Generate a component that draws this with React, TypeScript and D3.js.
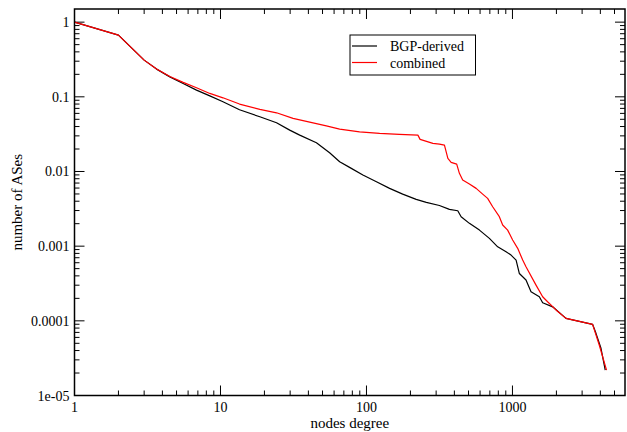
import React from "react";
import * as d3 from "d3";

const W = 627;
const H = 432;

const xMajorTicks = [1, 10, 100, 1000];
const xTickLabels = ["1", "10", "100", "1000"];
const yMajorTicks = [1, 0.1, 0.01, 0.001, 0.0001, 0.00001];
const yTickLabels = ["1", "0.1", "0.01", "0.001", "0.0001", "1e-05"];

const bgpDegree = [1, 2, 3, 3.65, 4.5, 5.55, 6.85, 8.45, 10.4, 13.5, 18.6, 24.2, 29.8, 34.9, 45.4, 55.9, 65.5, 76.6, 94.5, 117, 144, 177, 219, 257, 316, 370, 422, 445, 507, 594, 695, 792, 904, 978, 1059, 1115, 1238, 1340, 1528, 1610, 1885, 2326, 3538, 3733, 4040, 4320];
const bgpValue = [1, 0.67, 0.31, 0.235, 0.185, 0.151, 0.123, 0.103, 0.0857, 0.0672, 0.054, 0.0449, 0.0358, 0.0307, 0.0242, 0.0178, 0.0135, 0.01135, 0.00895, 0.00728, 0.00594, 0.00498, 0.00423, 0.00386, 0.0035, 0.00311, 0.00298, 0.00248, 0.00202, 0.00164, 0.00127, 0.00098, 0.00084, 0.00076, 0.00065, 0.00043, 0.000352, 0.000245, 0.00021, 0.000175, 0.000154, 0.000108, 0.0000898, 0.000068, 0.0000429, 0.0000219];

const combDegree = [1, 2, 3, 3.65, 4.5, 5.55, 6.85, 8.45, 10.4, 13.5, 18.6, 24.2, 31.4, 53.1, 65.5, 89.7, 123, 168, 225, 233, 285, 316, 342, 361, 380, 415, 433, 456, 507, 564, 625, 676, 732, 813, 857, 927, 1003, 1086, 1175, 1238, 1450, 1610, 1740, 1987, 2326, 3538, 3930, 4410];
const combValue = [1, 0.67, 0.31, 0.236, 0.187, 0.156, 0.132, 0.111, 0.097, 0.08, 0.0678, 0.0611, 0.0514, 0.0409, 0.037, 0.034, 0.0324, 0.0314, 0.0307, 0.0269, 0.0238, 0.0233, 0.0226, 0.015, 0.01324, 0.01256, 0.00944, 0.00767, 0.00678, 0.00594, 0.00498, 0.00436, 0.00337, 0.00248, 0.00192, 0.00164, 0.00121, 0.000935, 0.000652, 0.00053, 0.000301, 0.00021, 0.00018, 0.00014, 0.000108, 0.0000898, 0.0000474, 0.0000219];

const seriesNames = ["BGP-derived", "combined"];
const seriesColors = ["#000000", "#ff0000"];

const FONT = "'Liberation Serif', 'Times New Roman', serif";

export default function App() {
  const left = 74.5, right = 625, top = 9, bottom = 395.5;
  const x = d3.scaleLog().domain([1, 5900]).range([left, right]);
  const y = d3.scaleLog().domain([1e-5, 1.5]).range([bottom, top]);

  const line = d3
    .line<[number, number]>()
    .x((d) => x(d[0]))
    .y((d) => y(d[1]));

  const bgp: [number, number][] = bgpDegree.map((d, i) => [d, bgpValue[i]]);
  const comb: [number, number][] = combDegree.map((d, i) => [d, combValue[i]]);

  const xMinor: number[] = [];
  for (let p = 0; p < 4; p++) {
    for (let k = 2; k <= 9; k++) {
      const v = k * Math.pow(10, p);
      if (v <= 5900) xMinor.push(v);
    }
  }
  const yMinor: number[] = [];
  for (let p = -5; p < 0; p++) {
    for (let k = 2; k <= 9; k++) yMinor.push(k * Math.pow(10, p));
  }

  const maj = 10, min = 5;

  return (
    <svg width={W} height={H} style={{ position: "absolute", left: 0, top: 0, background: "#fff" }}>
      <rect x={0} y={0} width={W} height={H} fill="#fff" />
      <g stroke="#000" strokeWidth={1}>
        {xMajorTicks.map((t) => (
          <g key={"xm" + t}>
            <line x1={x(t)} x2={x(t)} y1={bottom} y2={bottom - maj} />
            <line x1={x(t)} x2={x(t)} y1={top} y2={top + maj} />
          </g>
        ))}
        {xMinor.map((t) => (
          <g key={"xn" + t}>
            <line x1={x(t)} x2={x(t)} y1={bottom} y2={bottom - min} />
            <line x1={x(t)} x2={x(t)} y1={top} y2={top + min} />
          </g>
        ))}
        {yMajorTicks.map((t) => (
          <g key={"ym" + t}>
            <line x1={left} x2={left + maj} y1={y(t)} y2={y(t)} />
            <line x1={right} x2={right - maj} y1={y(t)} y2={y(t)} />
          </g>
        ))}
        {yMinor.map((t) => (
          <g key={"yn" + t}>
            <line x1={left} x2={left + min} y1={y(t)} y2={y(t)} />
            <line x1={right} x2={right - min} y1={y(t)} y2={y(t)} />
          </g>
        ))}
      </g>
      <path d={line(bgp) || ""} fill="none" stroke={seriesColors[0]} strokeWidth={1.2} strokeLinejoin="round" />
      <path d={line(comb) || ""} fill="none" stroke={seriesColors[1]} strokeWidth={1.2} strokeLinejoin="round" />
      <rect x={left} y={top} width={right - left} height={bottom - top} fill="none" stroke="#000" strokeWidth={1.5} />
      <g fontFamily={FONT} fontSize={14} fill="#000">
        {xMajorTicks.map((t, i) => (
          <text key={"xl" + t} x={x(t)} y={bottom + 16} textAnchor="middle">
            {xTickLabels[i]}
          </text>
        ))}
        {yMajorTicks.map((t, i) => (
          <text key={"yl" + t} x={left - 5} y={y(t) + 5} textAnchor="end">
            {yTickLabels[i]}
          </text>
        ))}
        <text x={(left + right) / 2} y={428} textAnchor="middle" fontSize={15}>nodes degree</text>
        <text transform={`translate(22, ${(top + bottom) / 2}) rotate(-90)`} textAnchor="middle" fontSize={15}>
          number of ASes
        </text>
      </g>
      <g>
        <rect x={350} y={35} width={125.5} height={40} fill="#fff" stroke="#000" strokeWidth={1} />
        {seriesNames.map((n, i) => (
          <g key={n}>
            <line x1={352} x2={377} y1={46 + i * 16.5} y2={46 + i * 16.5} stroke={seriesColors[i]} strokeWidth={1.2} />
            <text x={390} y={51 + i * 16.5} fontFamily={FONT} fontSize={14} fill="#000">
              {n}
            </text>
          </g>
        ))}
      </g>
    </svg>
  );
}
